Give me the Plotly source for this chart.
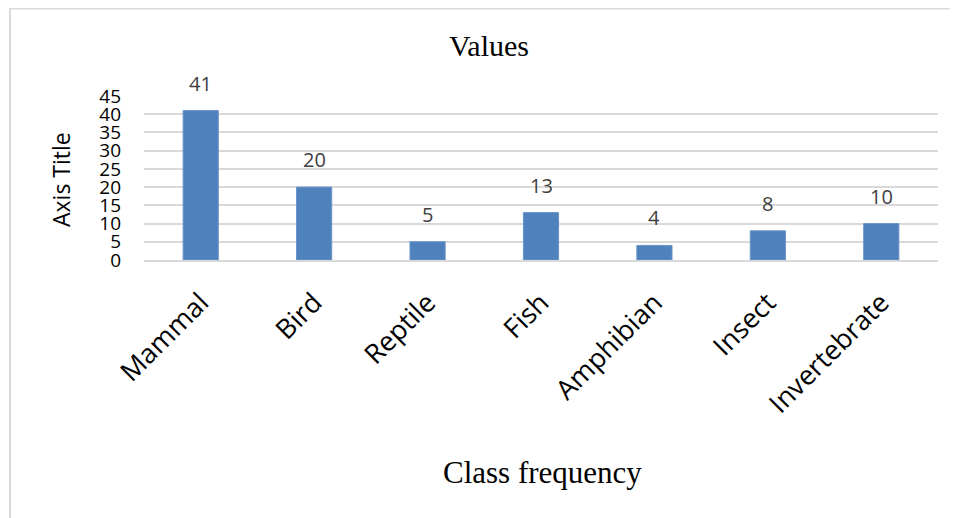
import plotly.graph_objects as go

categories = ["Mammal", "Bird", "Reptile", "Fish", "Amphibian", "Insect", "Invertebrate"]
values = [41, 20, 5, 13, 4, 8, 10]
y_ticks = [0, 5, 10, 15, 20, 25, 30, 35, 40, 45]

OFF = 8  # page body margin
W, H = 958 - OFF, 518 - OFF
# plot area in page pixels
L, R, T, B = 144, 938, 96, 260
pw, ph = R - L, B - T

def px(x):
    return (x - L) / pw

def py(y):
    return (B - y) / ph

SANS = "Open Sans, Noto Sans, sans-serif"
SERIF = "Liberation Serif, Times New Roman, serif"

fig = go.Figure()
fig.add_trace(go.Bar(
    x=categories, y=values,
    marker=dict(color="#4F81BD", line=dict(color="#6A93C8", width=1)),
    width=0.31,
    hoverinfo="x+y",
))

annotations = []
for c, v in zip(categories, values):
    annotations.append(dict(
        x=c, y=v, xref="x", yref="y", text=str(v), showarrow=False,
        yanchor="bottom", yshift=12,
        font=dict(family=SANS, size=20, color="#404040"),
    ))

annotations += [
    dict(text="Values", x=px(489), y=py(46), xref="paper", yref="paper",
         xanchor="center", yanchor="middle", showarrow=False,
         font=dict(family=SERIF, size=30, color="#000000")),
    dict(text="Class frequency", x=px(542), y=py(472), xref="paper", yref="paper",
         xanchor="center", yanchor="middle", showarrow=False,
         font=dict(family=SERIF, size=31, color="#000000")),
    dict(text="Axis Title", x=px(61), y=py(180), xref="paper", yref="paper",
         xanchor="center", yanchor="middle", showarrow=False, textangle=-90,
         font=dict(family=SANS, size=23, color="#000000")),
]

shapes = [
    dict(type="rect", xref="paper", yref="paper",
         x0=px(10), x1=px(1000), y0=py(580), y1=py(OFF + 0.5),
         line=dict(color="#D9D9D9", width=2), fillcolor="rgba(0,0,0,0)", layer="below"),
]

fig.update_layout(
    width=W, height=H,
    margin=dict(l=L - OFF, r=W - (R - OFF), t=T - OFF, b=H - (B - OFF), pad=0),
    paper_bgcolor="white", plot_bgcolor="white",
    showlegend=False,
    annotations=annotations,
    shapes=shapes,
)
fig.update_xaxes(
    tickangle=-45,
    tickfont=dict(family=SANS, size=27, color="#000000"),
    showgrid=False, showline=True, linecolor="#D9D9D9", linewidth=2,
    ticks="", ticklabelstandoff=14,
)
fig.update_yaxes(
    range=[0, 45], tickvals=y_ticks, ticktext=[str(t) for t in y_ticks],
    tickfont=dict(family=SANS, size=19, color="#000000"),
    showgrid=True, gridcolor="#D9D9D9", gridwidth=2,
    zeroline=False, showline=False, ticks="", ticklabelstandoff=22,
)

fig.write_html("out.html")
